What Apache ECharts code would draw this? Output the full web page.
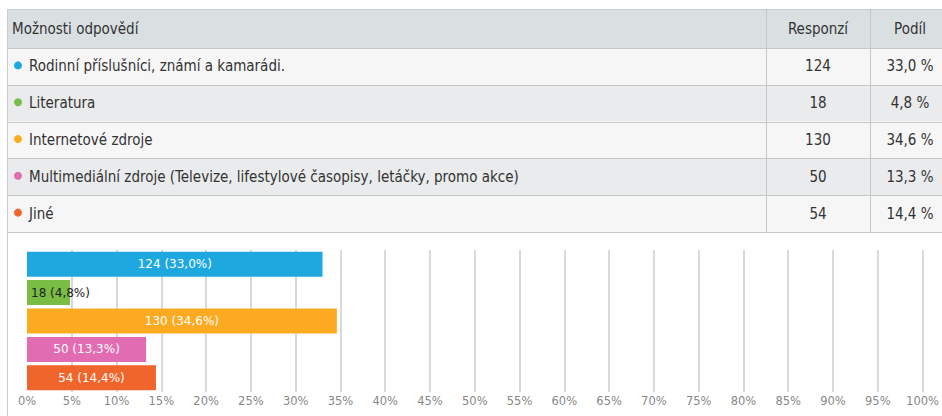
<!DOCTYPE html>
<html lang="cs">
<head>
<meta charset="utf-8">
<title>Možnosti odpovědí</title>
<script src="https://cdn.jsdelivr.net/npm/echarts@6/dist/echarts.min.js"></script>
<style>
  html, body { margin: 0; padding: 0; background: #ffffff; }
  #chart { width: 942px; height: 416px; }
</style>
</head>
<body>
<div id="chart"></div>
<script>
// Survey answers: option, number of responses, share in percent
const categories = [
  'Rodinní příslušníci, známí a kamarádi.',
  'Literatura',
  'Internetové zdroje',
  'Multimediální zdroje (Televize, lifestylové časopisy, letáčky, promo akce)',
  'Jiné'
];
const counts = [124, 18, 130, 50, 54];
const shares = [33.0, 4.8, 34.6, 13.3, 14.4];
const headers = ['Možnosti odpovědí', 'Responzí', 'Podíl'];

// palette, one colour per answer
const palette = ['#1ea8e0', '#79bd45', '#fbaa22', '#e26cb2', '#f0652b'];

const czNum = v => v.toFixed(1).replace('.', ',');

const tableFont = "15px 'Liberation Sans Narrow', 'DejaVu Sans Condensed', 'Roboto Condensed', 'Noto Sans', sans-serif";
const chartFont = "'DejaVu Sans', sans-serif";

// table geometry
const T = { left: 7, right: 942, top: 9, headH: 39, rowH: 36.8, col1: 766, col2: 870 };
const colCenter2 = 818, colCenter3 = 910;

function buildTable() {
  const els = [];
  const bodyTop = T.top + T.headH;
  const bottom = bodyTop + T.rowH * categories.length;
  // header
  els.push({ type: 'rect', shape: { x: T.left, y: T.top, width: T.right - T.left, height: T.headH },
    style: { fill: '#dadfe2' }, silent: true });
  els.push({ type: 'text', style: { text: headers[0], x: 12, y: T.top + T.headH / 2, font: tableFont,
    fill: '#333', textVerticalAlign: 'middle' }, silent: true });
  els.push({ type: 'text', style: { text: headers[1], x: colCenter2, y: T.top + T.headH / 2, font: tableFont,
    fill: '#333', textAlign: 'center', textVerticalAlign: 'middle' }, silent: true });
  els.push({ type: 'text', style: { text: headers[2], x: colCenter3, y: T.top + T.headH / 2, font: tableFont,
    fill: '#333', textAlign: 'center', textVerticalAlign: 'middle' }, silent: true });
  // body rows
  categories.forEach((name, i) => {
    const y = bodyTop + T.rowH * i;
    const cy = y + T.rowH / 2;
    els.push({ type: 'rect', shape: { x: T.left, y: y, width: T.right - T.left, height: T.rowH },
      style: { fill: i % 2 === 0 ? '#f6f6f6' : '#e9ebec' }, silent: true });
    els.push({ type: 'circle', shape: { cx: 18, cy: cy - 1, r: 4 }, style: { fill: palette[i] }, silent: true });
    els.push({ type: 'text', style: { text: name, x: 29, y: cy, font: tableFont, fill: '#333',
      textVerticalAlign: 'middle' }, silent: true });
    els.push({ type: 'text', style: { text: String(counts[i]), x: colCenter2, y: cy, font: tableFont, fill: '#333',
      textAlign: 'center', textVerticalAlign: 'middle' }, silent: true });
    els.push({ type: 'text', style: { text: czNum(shares[i]) + ' %', x: colCenter3, y: cy, font: tableFont,
      fill: '#333', textAlign: 'center', textVerticalAlign: 'middle' }, silent: true });
  });
  // horizontal rules
  for (let k = 0; k <= categories.length; k++) {
    const y = Math.round(bodyTop + T.rowH * k) + 0.5;
    els.push({ type: 'line', shape: { x1: T.left, y1: y, x2: T.right, y2: y },
      style: { stroke: '#c3c8cb', lineWidth: 1 }, silent: true });
  }
  els.push({ type: 'line', shape: { x1: T.left, y1: T.top + 0.5, x2: T.right, y2: T.top + 0.5 },
    style: { stroke: '#c9cdd0', lineWidth: 1 }, silent: true });
  // vertical rules
  [T.col1, T.col2].forEach(x => {
    els.push({ type: 'line', shape: { x1: x + 0.5, y1: T.top, x2: x + 0.5, y2: bottom },
      style: { stroke: '#c3c8cb', lineWidth: 1 }, silent: true });
  });
  // outer left border continues down past the plot
  els.push({ type: 'line', shape: { x1: T.left + 0.5, y1: T.top, x2: T.left + 0.5, y2: 416 },
    style: { stroke: '#c9cdd0', lineWidth: 1 }, silent: true });
  return els;
}

const chart = echarts.init(document.getElementById('chart'), null, { renderer: 'svg' });

chart.setOption({
  animation: false,
  backgroundColor: '#ffffff',
  graphic: buildTable(),
  grid: { left: 27, right: 15, top: 250, bottom: 24, containLabel: false },
  xAxis: {
    type: 'value',
    min: 0,
    max: 100,
    interval: 5,
    axisLine: { show: false },
    axisTick: { show: false },
    axisLabel: { formatter: '{value}%', color: '#888888', fontFamily: chartFont, fontSize: 11.5, margin: 3 },
    splitLine: { show: true, showMinLine: false, lineStyle: { color: '#cccccc', width: 1.5 } }
  },
  yAxis: {
    type: 'category',
    inverse: true,
    data: categories,
    axisLine: { show: false },
    axisTick: { show: false },
    axisLabel: { show: false }
  },
  series: [{
    type: 'bar',
    barCategoryGap: '12%',
    data: shares.map((v, i) => ({
      value: v,
      itemStyle: { color: palette[i] },
      label: v < 8
        ? { position: 'insideLeft', color: '#222', distance: 4 }
        : { position: 'inside', color: '#ffffff' }
    })),
    label: {
      show: true,
      fontFamily: chartFont,
      fontSize: 12,
      formatter: p => counts[p.dataIndex] + ' (' + czNum(shares[p.dataIndex]) + '%)'
    }
  }]
});
</script>
</body>
</html>
